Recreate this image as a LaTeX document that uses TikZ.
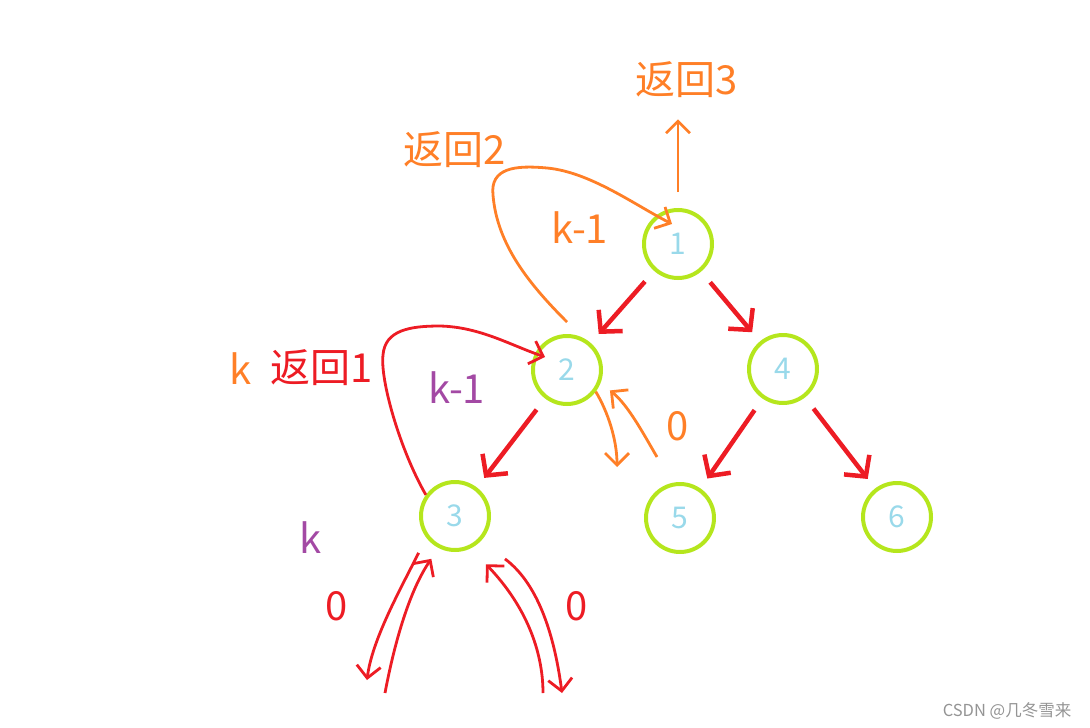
\documentclass[tikz,border=0pt]{standalone}
\usepackage{fontspec}
\setmainfont{Noto Sans CJK SC}
\usetikzlibrary{arrows.meta,calc}

\begin{document}
\begin{tikzpicture}[x=1pt, y=-1pt,
    vtx/.style={circle, draw=paintlime, line width=4pt, minimum size=68pt, inner sep=0pt,
      text=paintcyan, font=\fontsize{30}{32}\selectfont},
    edge/.style={-{Straight Barb[length=15pt, width=32pt]}, line width=4.5pt, paintred,
      shorten <=14pt, shorten >=12pt},
    oret/.style={-{Straight Barb[length=12pt, width=24pt]}, line width=2.8pt, paintorange},
    rret/.style={-{Straight Barb[length=12pt, width=24pt]}, line width=2.8pt, paintred},
    lbl/.style={inner sep=0pt, font=\fontsize{40}{44}\selectfont},
  ]
  \definecolor{paintlime}{RGB}{181,230,29}
  \definecolor{paintcyan}{RGB}{153,217,234}
  \definecolor{paintred}{RGB}{237,28,36}
  \definecolor{paintorange}{RGB}{255,127,39}
  \definecolor{paintpurple}{RGB}{163,73,164}

  \useasboundingbox (0,0) rectangle (1090,728);

  % tree
  \foreach \i/\x/\y in {1/678/244, 2/567/370, 4/783/369, 3/455/516, 5/680/518, 6/897/517}
    \node[vtx] (n\i) at (\x,\y) {\i};
  \foreach \a/\b in {1/2, 1/4, 2/3, 4/5, 4/6}
    \draw[edge] (n\a) -- (n\b);

  \node[lbl, text=paintorange] (ret3) at (687,80) {返回3};
  \node[lbl, text=paintorange] (ret2) at (455,150) {返回2};
  \node[lbl, text=paintorange] (kmone) at (580,228) {k-1};
  \node[lbl, text=paintorange] (kone) at (241,369) {k};
  \node[lbl, text=paintred] (ret1) at (322,368) {返回1};
  \node[lbl, text=paintpurple] (kmtwo) at (457,388) {k-1};
  \node[lbl, text=paintorange] (zeroa) at (678,426) {0};
  \node[lbl, text=paintpurple] (ktwo) at (311,538) {k};
  \node[lbl, text=paintred] (zerob) at (337,606) {0};
  \node[lbl, text=paintred] (zeroc) at (577,606) {0};
  \node[inner sep=0pt, font=\fontsize{16.5}{18}\selectfont, text=black!42] (mark) at (1007,711) {CSDN @几冬雪来};

  \coordinate (dn0) at (617,467);
  \coordinate (up0) at (657,457);
  \coordinate (ld0) at (367,680);
  \coordinate (lu0) at (385,693);
  \coordinate (ru0) at (543,693);
  \coordinate (rd0) at (562,693);

  % returns
  \draw[oret, shorten <=16pt, shorten >=21pt] (n1.north) -- (ret3.south -| n1.north);
  \draw[oret] ([yshift=12pt]n2.north) .. controls (530,285) and (497,245) .. (493,195)
    .. controls (490,168) and (515,165) .. (547,168)
    .. controls (590,172) and (635,205) .. ($(n1)+(-6,-20)$);
  \draw[oret] (n2.-37) .. controls (608,412) and (617,440) .. (dn0);
  \draw[oret, shorten >=12pt] (up0) .. controls (643,433) and (628,405) .. (n2.-21);
  \draw[rret] (n3.144) .. controls (400,450) and (380,380) .. (383,355)
    .. controls (385,330) and (410,326) .. (440,326)
    .. controls (480,327) and (510,345) .. ($(n2)+(-22,-13)$);

  \draw[rret, shorten <=17pt] (n3.217) .. controls (400,590) and (372,640) .. (ld0);
  \draw[rret, shorten >=13pt] (lu0) .. controls (395,640) and (410,590) .. (n3.243);
  \draw[rret, shorten >=22pt] (ru0) .. controls (543,650) and (525,605) .. (n3.-64);
  \draw[rret, shorten <=30pt] (n3.-44) .. controls (540,585) and (555,640) .. (rd0);
\end{tikzpicture}
\end{document}
